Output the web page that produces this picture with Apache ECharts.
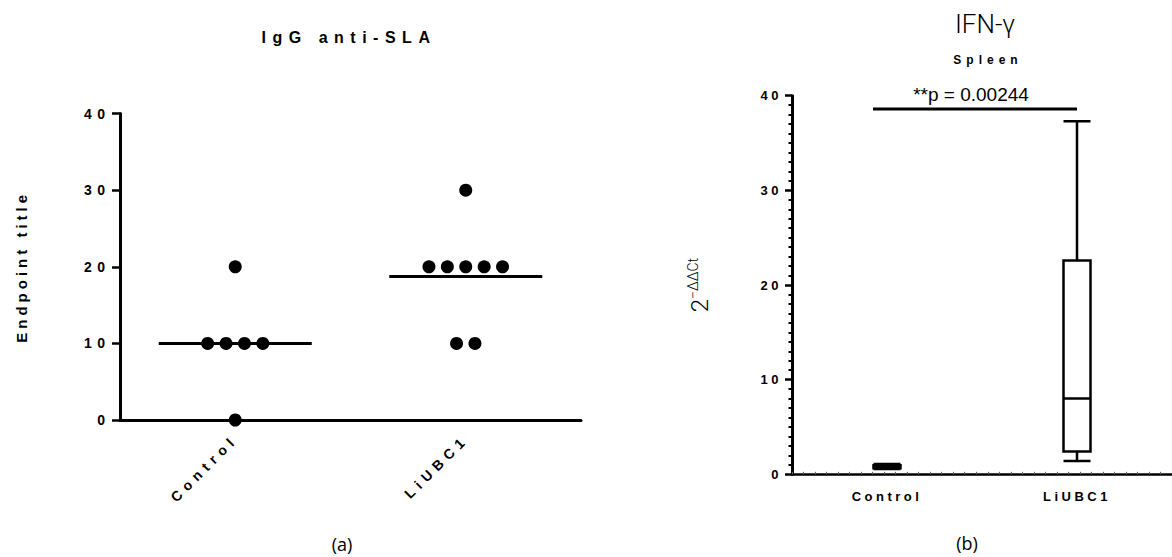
<!DOCTYPE html>
<html><head><meta charset="utf-8">
<script src="https://cdn.jsdelivr.net/npm/echarts@6/dist/echarts.min.js"></script>
<style>
html,body{margin:0;padding:0;background:#fff;}
#c{width:1172px;height:557px;}
#c text[style*="bold"][style*="16px"]{letter-spacing:6.5px;}
#c text[style*="bold"][style*="15px"]{letter-spacing:4px;}
#c text[style*="bold"][style*="14px"]{letter-spacing:5.5px;}
#c text[style*="bold"][style*="13px"]{letter-spacing:3.5px;}
#c text[style*="bold"][style*="12px"]{letter-spacing:5px;}
</style></head><body><div id="c"></div>
<script>
// ---- data ----
const categories = ['Control', 'LiUBC1'];
const controlTiters = [20, 10, 10, 10, 10, 0];
const liubc1Titers = [30, 20, 20, 20, 20, 20, 10, 10];
const yTicksLeft = [0, 10, 20, 30, 40];
const yTicksRight = [0, 10, 20, 30, 40];
// boxplot stats: [min, Q1, median, Q3, max]
const controlBox = [0.55, 0.65, 0.8, 0.95, 1.1];
const liubc1Box = [1.4, 2.4, 8.0, 22.6, 37.3];
const sigFromTo = [0, 1];
const sigLevel = [38.6];
const sigLabel = ['**p = 0.00244'];
const titleLeft = 'IgG anti-SLA';
const titleRight = 'IFN-γ';
const subtitleRight = 'Spleen';

const groups = [controlTiters, liubc1Titers];
const DOT_SPACING = 18.4;

// beeswarm layout of identical values
const scatterData = [];
groups.forEach((vals, ci) => {
  const counts = {};
  vals.forEach(v => counts[v] = (counts[v] || 0) + 1);
  const seen = {};
  vals.forEach(v => {
    const n = counts[v];
    const i = seen[v] = (seen[v] === undefined ? 0 : seen[v] + 1);
    scatterData.push({ value: [ci, v], symbolOffset: [(i - (n - 1) / 2) * DOT_SPACING, 0] });
  });
});
const means = groups.map((vals, ci) => [ci, vals.reduce((a, b) => a + b, 0) / vals.length]);

const chart = echarts.init(document.getElementById('c'), null, { renderer: 'svg', width: 1172, height: 557 });

const yLeftMax = yTicksLeft[yTicksLeft.length - 1];
const yRightMax = yTicksRight[yTicksRight.length - 1];
const FF = '"Liberation Sans", Arial, sans-serif';

chart.setOption({
  animation: false,
  backgroundColor: '#fff',
  grid: [
    { left: 120, top: 113.6, width: 461, height: 306.4 },
    { left: 792, top: 95.7, width: 390, height: 378.6 }
  ],
  xAxis: [
    {
      gridIndex: 0, type: 'category', data: categories,
      axisLine: { lineStyle: { color: '#000', width: 3 } },
      axisTick: { alignWithLabel: true, length: 7, lineStyle: { color: '#000', width: 2.5 } },
      axisLabel: { rotate: 45, margin: 17, color: '#000', fontWeight: 'bold', fontSize: 14, fontFamily: FF }
    },
    {
      gridIndex: 1, type: 'category', data: categories,
      axisLine: { lineStyle: { color: '#000', width: 2.5 } },
      axisTick: { alignWithLabel: true, length: 6, lineStyle: { color: '#000', width: 2 } },
      axisLabel: { margin: 16, color: '#000', fontWeight: 'bold', fontSize: 13, fontFamily: FF }
    },
    {
      gridIndex: 1, type: 'value', min: 0, max: 33, interval: 1, position: 'bottom',
      axisLine: { show: false },
      axisTick: { show: true, inside: true, length: 2.5, lineStyle: { color: '#666', width: 1 } },
      axisLabel: { show: false }, splitLine: { show: false }
    }
  ],
  yAxis: [
    {
      gridIndex: 0, type: 'value', min: yTicksLeft[0], max: yLeftMax, interval: 10,
      axisLine: { show: true, lineStyle: { color: '#000', width: 3 } },
      axisTick: { show: true, length: 8, lineStyle: { color: '#000', width: 2.5 } },
      axisLabel: { margin: 9.5, color: '#000', fontWeight: 'bold', fontSize: 14, fontFamily: FF },
      splitLine: { show: false },
      name: 'Endpoint title', nameLocation: 'middle', nameRotate: 90, nameGap: 91,
      nameTextStyle: { color: '#000', fontWeight: 'bold', fontSize: 15, fontFamily: FF }
    },
    {
      gridIndex: 1, type: 'value', min: yTicksRight[0], max: yRightMax, interval: 10,
      axisLine: { show: true, lineStyle: { color: '#000', width: 3 } },
      axisTick: { show: true, length: 7, lineStyle: { color: '#000', width: 2.5 } },
      minorTick: { show: true, splitNumber: 10, length: 3.5, lineStyle: { color: '#000', width: 2 } },
      axisLabel: { margin: 10, color: '#000', fontWeight: 'bold', fontSize: 13, fontFamily: FF },
      splitLine: { show: false },
      name: '{b|2}{s|−ΔΔCt}', nameLocation: 'middle', nameRotate: 90, nameGap: 78,
      nameTextStyle: {
        color: '#000',
        rich: {
          b: { fontSize: 24, fontFamily: 'Roboto', fontWeight: 300, color: '#000', lineHeight: 28 },
          s: { fontSize: 14, fontFamily: 'Roboto', fontWeight: 300, color: '#000', verticalAlign: 'top', lineHeight: 28 }
        }
      }
    }
  ],
  series: [
    {
      type: 'scatter', xAxisIndex: 0, yAxisIndex: 0, data: scatterData,
      symbol: 'circle', symbolSize: 13, itemStyle: { color: '#000', opacity: 1 }, z: 3
    },
    {
      type: 'custom', xAxisIndex: 0, yAxisIndex: 0, data: means, z: 4,
      renderItem: (params, api) => {
        const p = api.coord([api.value(0), api.value(1)]);
        return { type: 'line', shape: { x1: p[0] - 76.5, y1: p[1], x2: p[0] + 76.5, y2: p[1] },
                 style: { stroke: '#000', lineWidth: 3 } };
      }
    },
    {
      type: 'boxplot', xAxisIndex: 1, yAxisIndex: 1, data: [controlBox, liubc1Box],
      boxWidth: [27, 27],
      itemStyle: { color: '#fff', borderColor: '#000', borderWidth: 2.5 }
    },
    {
      type: 'custom', xAxisIndex: 1, yAxisIndex: 1, data: [[sigFromTo[0], sigFromTo[1], sigLevel[0]]],
      renderItem: (params, api) => {
        const a = api.coord([api.value(0), api.value(2)]);
        const b = api.coord([api.value(1), api.value(2)]);
        const x1 = a[0] - 14, x2 = b[0];
        return { type: 'group', children: [
          { type: 'line', shape: { x1: x1, y1: a[1], x2: x2, y2: b[1] }, style: { stroke: '#000', lineWidth: 3 } },
          { type: 'text', style: { text: sigLabel[params.dataIndex], x: (x1 + x2) / 2 - 4, y: a[1] - 5,
              align: 'center', verticalAlign: 'bottom', fill: '#000',
              font: '19px "Liberation Sans", Arial, sans-serif' } }
        ] };
      }
    }
  ],
  graphic: [
    { type: 'text', x: 349, y: 37, style: { text: titleLeft, font: 'bold 16px ' + FF, fill: '#000', align: 'center', verticalAlign: 'middle' } },
    { type: 'text', x: 985, y: 24, style: { text: titleRight, font: '300 26px Roboto, sans-serif', fill: '#000', align: 'center', verticalAlign: 'middle' } },
    { type: 'text', x: 988, y: 60, style: { text: subtitleRight, font: 'bold 12px ' + FF, fill: '#000', align: 'center', verticalAlign: 'middle' } },
    { type: 'text', x: 342, y: 544, style: { text: '(a)', font: '18px "Open Sans", sans-serif', fill: '#000', align: 'center', verticalAlign: 'middle' } },
    { type: 'text', x: 967, y: 543, style: { text: '(b)', font: '18px "Open Sans", sans-serif', fill: '#000', align: 'center', verticalAlign: 'middle' } }
  ]
});
</script></body></html>
